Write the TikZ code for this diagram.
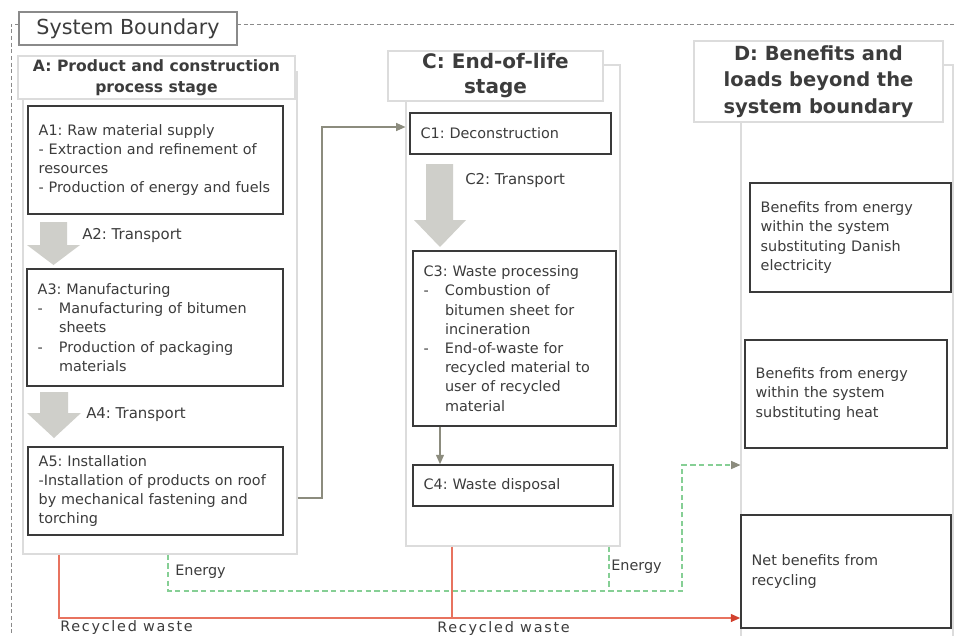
\documentclass[tikz,border=0pt]{standalone}
\usepackage{fontspec}
\setmainfont{DejaVu Sans}
\newfontfamily\widefont[LetterSpace=12]{DejaVu Sans}
\usepackage{tikz}
\usetikzlibrary{arrows.meta, positioning, calc}
\usepackage{xcolor}
\frenchspacing

\definecolor{boxline}{HTML}{3A3A3A}
\definecolor{panelline}{HTML}{DCDCDC}
\definecolor{txt}{HTML}{3C3C3C}
\definecolor{tfill}{HTML}{CFCFCA}
\definecolor{flowline}{HTML}{8C8C7E}
\definecolor{recycred}{HTML}{E8735F}
\definecolor{recyctip}{HTML}{D2412E}
\definecolor{energygreen}{HTML}{86CF95}
\definecolor{sbline}{HTML}{8A8A8A}

\newcommand{\bd}{\makebox[16pt][l]{-}}
\newcommand{\ci}{\hspace*{16pt}}

\tikzset{
  body/.style={font=\fontsize{10.8pt}{14.4pt}\selectfont, text=txt},
  pbox/.style={body, draw=boxline, line width=1.3pt, fill=white,
    inner xsep=8pt, inner ysep=0pt, align=left},
  panel/.style={draw=panelline, line width=0.8pt, fill=white, inner sep=0pt},
  stagehead/.style={draw=panelline, line width=0.8pt, fill=white,
    align=center, inner sep=0pt, text=txt},
  lbl/.style={body, inner sep=0pt, anchor=west},
  flow/.style={draw=flowline, line width=0.9pt,
    -{Triangle[length=7pt,width=6pt]}},
  recyc/.style={draw=recycred, line width=0.9pt},
  energy/.style={draw=energygreen, line width=0.9pt,
    dash pattern=on 4pt off 2.5pt},
  tarrow/.style={fill=tfill}
}

\begin{document}
\begin{tikzpicture}[x=0.75pt, y=-0.75pt]
\useasboundingbox (0,0) rectangle (956,635);

% システム境界
\draw[sbline, line width=0.7pt, dash pattern=on 3pt off 2pt]
  (19,24) -- (11,24) -- (11,640) (237,24) -- (960,24);
\node (SB) [draw=sbline, line width=0.8pt, fill=white, minimum width=163.5pt,
  minimum height=24.75pt, inner sep=0pt, text=txt,
  font=\fontsize{15.5pt}{18pt}\selectfont] at (128,28.5) {System Boundary};

% 段階パネル
\node (Apanel) [panel, minimum width=205.5pt, minimum height=361.5pt] at (160,313) {};
\node (Cpanel) [panel, minimum width=160.5pt, minimum height=360.75pt] at (513,305.5) {};
\node (Dpanel) [panel, minimum width=159pt, minimum height=438.75pt] at (847,357.5) {};

% 見出し
\node (Ahead) [stagehead, minimum width=207.75pt, minimum height=32.25pt,
  font=\bfseries\fontsize{11.7pt}{15.75pt}\selectfont] at (156.5,77.5)
  {A: Product and construction\\process stage};
\node (Chead) [stagehead, minimum width=161.25pt, minimum height=37.5pt,
  font=\bfseries\fontsize{15pt}{18.75pt}\selectfont] at (495.5,76)
  {C: End-of-life\\stage};
\node (Dhead) [stagehead, minimum width=186.75pt, minimum height=60.75pt,
  font=\bfseries\fontsize{14.6pt}{19.9pt}\selectfont] at (818.5,81.5)
  {D: Benefits and\\loads beyond the\\system boundary};

% A 段階
\node (A1) [pbox, text width=175.25pt, minimum height=81pt] at (155.5,160)
  {A1: Raw material supply\\- Extraction and refinement of\\resources\\- Production of energy and fuels};
\node (A3) [pbox, text width=176pt, minimum height=87.75pt] at (155,327.5)
  {A3: Manufacturing\\\bd Manufacturing of bitumen\\\ci sheets\\\bd Production of packaging\\\ci materials};
\node (A5) [pbox, text width=175.25pt, minimum height=66pt] at (155.5,491)
  {A5: Installation\\-Installation of products on roof\\by mechanical fastening and\\torching};

% C 段階
\node (C1) [pbox, text width=134.75pt, minimum height=30.75pt] at (510.5,133.5)
  {C1: Deconstruction};
\node (C3) [pbox, text width=136.25pt, minimum height=131.25pt] at (514.5,338.5)
  {C3: Waste processing\\\bd Combustion of\\\ci bitumen sheet for\\\ci incineration\\\bd End-of-waste for\\\ci recycled material to\\\ci user of recycled\\\ci material};
\node (C4) [pbox, text width=134pt, minimum height=30.75pt] at (513,485.5)
  {C4: Waste disposal};

% D 段階
\node (D1) [pbox, text width=134.75pt, minimum height=81.75pt] at (850.5,237.5)
  {Benefits from energy\\within the system\\substituting Danish\\electricity};
\node (D2) [pbox, text width=135.5pt, minimum height=81pt] at (846,394)
  {Benefits from energy\\within the system\\substituting heat};
\node (D3) [pbox, text width=141.5pt, minimum height=84.75pt] at (846,571.5)
  {Net benefits from\\recycling};

% 輸送の矢印
\fill[tarrow] (40,222) -- (67,222) -- (67,245) -- (80,245) -- (53.5,265)
  -- (27,245) -- (40,245) -- cycle;
\fill[tarrow] (40,392) -- (68,392) -- (68,413) -- (81,413) -- (54,438)
  -- (27,413) -- (40,413) -- cycle;
\fill[tarrow] (426,164) -- (453,164) -- (453,220) -- (466,220) -- (440,247)
  -- (414,220) -- (426,220) -- cycle;
\node (A2lbl) [lbl, font=\fontsize{11.2pt}{14pt}\selectfont] at (82,236) {A2: Transport};
\node (A4lbl) [lbl, font=\fontsize{11.2pt}{14pt}\selectfont] at (86,415) {A4: Transport};
\node (C2lbl) [lbl, font=\fontsize{11.2pt}{14pt}\selectfont] at (465,181) {C2: Transport};

% 流れ
\draw[flow] (Apanel.east |- 0,498) -- (322,498) |- (Cpanel.west |- 0,127);
\draw[flow] (C3.south -| 440,0) -- (C4.north -| 440,0);

% エネルギー (破線)
\draw[energy] (Cpanel.south -| 609,0) -- (609,591);
\draw[energy, -{Triangle[length=7pt,width=6pt,color=flowline]}]
  (Apanel.south -| 168,0) |- (682,591) |- (Dpanel.west |- 0,465);
\node (EnA) [lbl] at (175,572) {Energy};
\node (EnC) [lbl] at (611,567) {Energy};

% リサイクル廃棄物
\draw[recyc] (Cpanel.south -| 452,0) -- (452,618);
\draw[recyc, -{Triangle[length=7pt,width=6pt,color=recyctip]}]
  (Apanel.south -| 59,0) |- (D3.west |- 0,618);
\node (RwA) [lbl, font=\widefont\fontsize{10.8pt}{13pt}\selectfont] at (60,628) {Recycled waste};
\node (RwC) [lbl, font=\widefont\fontsize{10.8pt}{13pt}\selectfont] at (437,629) {Recycled waste};

\end{tikzpicture}
\end{document}
